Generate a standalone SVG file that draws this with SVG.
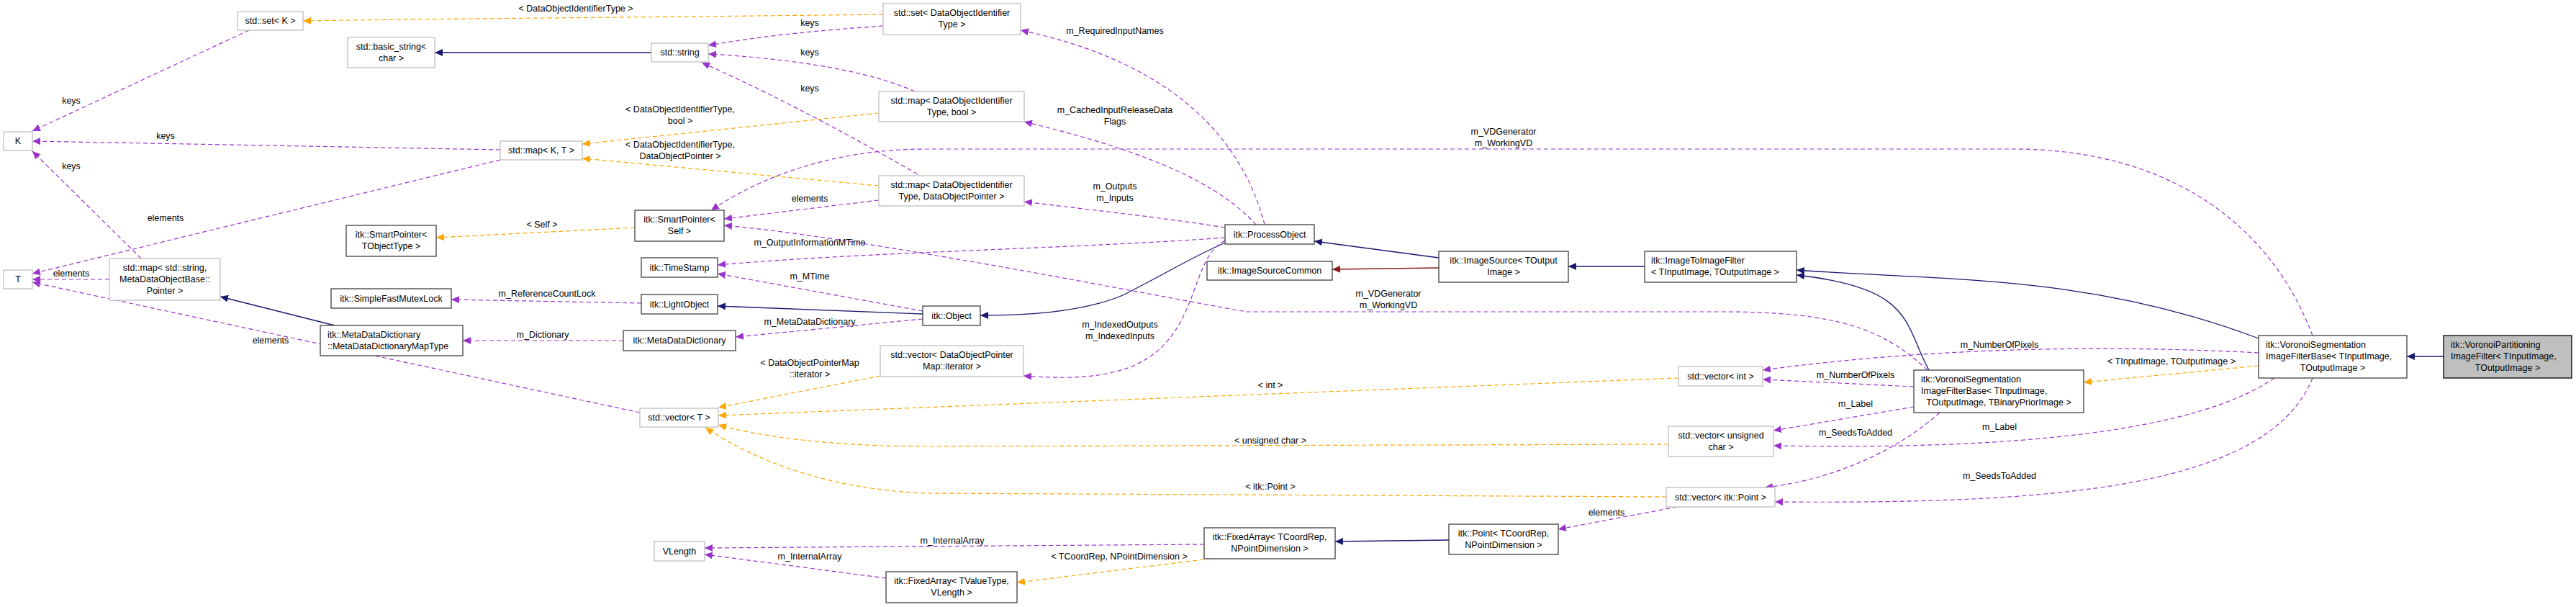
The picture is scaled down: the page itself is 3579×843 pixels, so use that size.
<svg xmlns="http://www.w3.org/2000/svg" width="3579" height="843" viewBox="0 0 3579 843">
<style>
text{font-family:"Liberation Sans",Arial,sans-serif;font-size:12.5px;fill:#000}
.c{text-anchor:middle}
.b{fill:#fff;stroke:#404040;stroke-width:1.3}
.g{fill:#fff;stroke:#bfbfbf;stroke-width:1.3}
.h{fill:#bfbfbf;stroke:#000;stroke-width:1.3}
.p{fill:none;stroke:#9a32cd;stroke-dasharray:6,4;stroke-width:1.2;marker-end:url(#mp)}
.o{fill:none;stroke:#ffa500;stroke-dasharray:6,4;stroke-width:1.2;marker-end:url(#mo)}
.n{fill:none;stroke:#191970;stroke-width:1.3;marker-end:url(#mn)}
.r{fill:none;stroke:#8b1a1a;stroke-width:1.3;marker-end:url(#mr)}
</style>
<defs>
<marker id="mp" markerWidth="12" markerHeight="10" refX="11" refY="5" orient="auto" markerUnits="userSpaceOnUse"><path d="M0,0L11,5L0,10z" fill="#9a32cd"/></marker>
<marker id="mo" markerWidth="12" markerHeight="10" refX="11" refY="5" orient="auto" markerUnits="userSpaceOnUse"><path d="M0,0L11,5L0,10z" fill="#ffa500"/></marker>
<marker id="mn" markerWidth="12" markerHeight="10" refX="11" refY="5" orient="auto" markerUnits="userSpaceOnUse"><path d="M0,0L11,5L0,10z" fill="#191970"/></marker>
<marker id="mr" markerWidth="12" markerHeight="10" refX="11" refY="5" orient="auto" markerUnits="userSpaceOnUse"><path d="M0,0L11,5L0,10z" fill="#8b1a1a"/></marker>
</defs>
<rect width="3579" height="843" fill="#fff"/>
<g id="edges">
<path class="o" d="M1227,20 C900,24 600,26 421,29"/><text class="c" x="800" y="16">&lt; DataObjectIdentifierType &gt;</text>
<path class="p" d="M1227,36 C1100,45 1050,52 984,63"/><text class="c" x="1125" y="36">keys</text>
<path class="p" d="M1271,127 C1200,95 1080,80 984,75"/><text class="c" x="1125" y="77">keys</text>
<path class="p" d="M1275,242 C1150,170 1050,120 975,87"/><text class="c" x="1125" y="127">keys</text>
<path class="n" d="M905,73 L604,73"/>
<path class="p" d="M346,42 L45,182"/><text class="c" x="99" y="144">keys</text>
<path class="p" d="M695,208 L45,196"/><text class="c" x="230" y="193">keys</text>
<path class="p" d="M695,222 L45,380"/><text class="c" x="230" y="307">elements</text>
<path class="p" d="M196,359 L45,210"/><text class="c" x="99" y="235">keys</text>
<path class="p" d="M152,388 L45,388"/><text class="c" x="99" y="384">elements</text>
<path class="n" d="M465,452 L306,412"/>
<path class="p" d="M866,473 L643,473"/><text class="c" x="754" y="469">m_Dictionary</text>
<path class="p" d="M1282,443 L1022,468"/><text class="c" x="1125" y="451">m_MetaDataDictionary</text>
<path class="p" d="M891,421 L627,416"/><text class="c" x="760" y="412">m_ReferenceCountLock</text>
<path class="n" d="M1282,436 L997,425"/>
<path class="p" d="M1282,432 L997,380"/><text class="c" x="1125" y="388">m_MTime</text>
<path class="p" d="M1702,330 C1500,345 1200,350 997,368"/><text class="c" x="1125" y="341">m_OutputInformationMTime</text>
<path class="n" d="M1702,337 C1650,360 1620,380 1560,410 C1500,435 1420,438 1362,438"/>
<path class="p" d="M1757,312 C1720,170 1600,80 1418,42"/><text class="c" x="1549" y="47">m_RequiredInputNames</text>
<path class="p" d="M1745,312 C1680,240 1550,200 1423,169"/><text class="c" x="1549" y="157">m_CachedInputReleaseData</text><text class="c" x="1549" y="173">Flags</text>
<path class="p" d="M1702,316 C1600,300 1500,290 1423,280"/><text class="c" x="1549" y="263">m_Outputs</text><text class="c" x="1549" y="279">m_Inputs</text>
<path class="o" d="M1221,258 L809,220"/><text class="c" x="945" y="205">&lt; DataObjectIdentifierType,</text><text class="c" x="945" y="221">DataObjectPointer &gt;</text>
<path class="o" d="M1221,157 L809,200"/><text class="c" x="945" y="156">&lt; DataObjectIdentifierType,</text><text class="c" x="945" y="172">bool &gt;</text>
<path class="p" d="M1221,278 L1006,304"/><text class="c" x="1125" y="280">elements</text>
<path class="o" d="M882,316 L606,330"/><text class="c" x="753" y="316">&lt; Self &gt;</text>
<path class="p" d="M1702,334 C1650,360 1670,470 1570,510 C1520,528 1470,525 1422,522"/><text class="c" x="1556" y="455">m_IndexedOutputs</text><text class="c" x="1556" y="471">m_IndexedInputs</text>
<path class="p" d="M2678,514 C2620,460 2560,433 2394,433 L1732,433 C1600,410 1200,330 1006,313"/><text class="c" x="1929" y="412">m_VDGenerator</text><text class="c" x="1929" y="428">m_WorkingVD</text>
<path class="p" d="M3213,466 C3150,300 3000,207 2798,207 L1287,207 C1150,207 1050,250 988,292"/><text class="c" x="2089" y="187">m_VDGenerator</text><text class="c" x="2089" y="203">m_WorkingVD</text>
<path class="n" d="M1999,358 L1826,335"/>
<path class="r" d="M1999,372 L1851,374"/>
<path class="n" d="M2285,370 L2179,370"/>
<path class="n" d="M3138,470 C2900,380 2700,390 2496,375"/>
<path class="n" d="M2680,514 C2645,450 2660,400 2496,382"/>
<path class="n" d="M3395,495 L3344,495"/>
<path class="o" d="M3138,508 L2895,531"/><text class="c" x="3017" y="506">&lt; TInputImage, TOutputImage &gt;</text>
<path class="p" d="M3138,490 C2950,480 2700,480 2449,514"/><text class="c" x="2778" y="483">m_NumberOfPixels</text>
<path class="p" d="M2659,537 L2449,527"/><text class="c" x="2578" y="525">m_NumberOfPixels</text>
<path class="p" d="M2659,565 L2464,598"/><text class="c" x="2578" y="565">m_Label</text>
<path class="p" d="M3160,525 C3050,600 2800,625 2464,619"/><text class="c" x="2778" y="597">m_Label</text>
<path class="p" d="M2695,573 C2620,640 2520,670 2452,677"/><text class="c" x="2578" y="605">m_SeedsToAdded</text>
<path class="p" d="M3213,525 C3150,680 2850,700 2466,697"/><text class="c" x="2778" y="665">m_SeedsToAdded</text>
<path class="p" d="M2330,704 L2165,735"/><text class="c" x="2232" y="716">elements</text>
<path class="n" d="M2013,750 L1855,752"/>
<path class="p" d="M1673,756 L979,761"/><text class="c" x="1323" y="755">m_InternalArray</text>
<path class="o" d="M1673,777 L1413,809"/><text class="c" x="1555" y="777">&lt; TCoordRep, NPointDimension &gt;</text>
<path class="p" d="M1231,803 L979,770"/><text class="c" x="1125" y="777">m_InternalArray</text>
<path class="o" d="M1223,522 L998,566"/><text class="c" x="1125" y="508">&lt; DataObjectPointerMap</text><text class="c" x="1125" y="524">::iterator &gt;</text>
<path class="o" d="M2332,525 L998,577"/><text class="c" x="1765" y="539">&lt; int &gt;</text>
<path class="o" d="M2318,617 L1290,620 C1150,620 1050,605 998,590"/><text class="c" x="1765" y="616">&lt; unsigned char &gt;</text>
<path class="o" d="M2315,690 L1290,685 C1150,680 1050,640 980,594"/><text class="c" x="1765" y="680">&lt; itk::Point &gt;</text>
<path class="p" d="M889,573 L45,392"/><text class="c" x="376" y="477">elements</text>
</g>
<g id="n1"><rect class="g" x="330" y="16" width="91" height="26"/><text class="c" x="375.5" y="33">std::set&lt; K &gt;</text></g>
<g id="n2"><rect class="g" x="483" y="52" width="121" height="42"/><text class="c" x="543.5" y="69">std::basic_string&lt;</text><text class="c" x="543.5" y="85">char &gt;</text></g>
<g id="n3"><rect class="g" x="5" y="183" width="40" height="26"/><text class="c" x="25" y="200">K</text></g>
<g id="n4"><rect class="g" x="5" y="375" width="40" height="26"/><text class="c" x="25" y="392">T</text></g>
<g id="n5"><rect class="g" x="152" y="359" width="154" height="58"/><text class="c" x="229" y="376">std::map&lt; std::string,</text><text class="c" x="229" y="392">MetaDataObjectBase::</text><text class="c" x="229" y="408">Pointer &gt;</text></g>
<g id="n6"><rect class="b" x="481" y="313" width="125" height="43"/><text class="c" x="543.5" y="330">itk::SmartPointer&lt;</text><text class="c" x="543.5" y="346">TObjectType &gt;</text></g>
<g id="n7"><rect class="b" x="460" y="401" width="167" height="27"/><text class="c" x="543.5" y="419">itk::SimpleFastMutexLock</text></g>
<g id="n8"><rect class="b" x="445" y="452" width="198" height="42"/><text x="455" y="469">itk::MetaDataDictionary</text><text x="455" y="485">::MetaDataDictionaryMapType</text></g>
<g id="n9"><rect class="g" x="1227" y="5" width="191" height="43"/><text class="c" x="1322.5" y="22">std::set&lt; DataObjectIdentifier</text><text class="c" x="1322.5" y="38">Type &gt;</text></g>
<g id="n10"><rect class="g" x="905" y="60" width="79" height="26"/><text class="c" x="944.5" y="77">std::string</text></g>
<g id="n11"><rect class="g" x="1221" y="127" width="202" height="42"/><text class="c" x="1322" y="144">std::map&lt; DataObjectIdentifier</text><text class="c" x="1322" y="160">Type, bool &gt;</text></g>
<g id="n12"><rect class="g" x="695" y="196" width="114" height="26"/><text class="c" x="752" y="213">std::map&lt; K, T &gt;</text></g>
<g id="n13"><rect class="g" x="1221" y="244" width="202" height="42"/><text class="c" x="1322" y="261">std::map&lt; DataObjectIdentifier</text><text class="c" x="1322" y="277">Type, DataObjectPointer &gt;</text></g>
<g id="n14"><rect class="b" x="882" y="292" width="124" height="43"/><text class="c" x="944" y="309">itk::SmartPointer&lt;</text><text class="c" x="944" y="325">Self &gt;</text></g>
<g id="n15"><rect class="b" x="891" y="358" width="106" height="27"/><text class="c" x="944" y="376">itk::TimeStamp</text></g>
<g id="n16"><rect class="b" x="891" y="409" width="106" height="27"/><text class="c" x="944" y="427">itk::LightObject</text></g>
<g id="n17"><rect class="b" x="866" y="459" width="156" height="28"/><text class="c" x="944" y="477">itk::MetaDataDictionary</text></g>
<g id="n18"><rect class="b" x="1282" y="425" width="80" height="27"/><text class="c" x="1322" y="443">itk::Object</text></g>
<g id="n19"><rect class="g" x="1223" y="480" width="199" height="43"/><text class="c" x="1322.5" y="497">std::vector&lt; DataObjectPointer</text><text class="c" x="1322.5" y="513">Map::iterator &gt;</text></g>
<g id="n20"><rect class="g" x="889" y="567" width="109" height="26"/><text class="c" x="943.5" y="584">std::vector&lt; T &gt;</text></g>
<g id="n21"><rect class="g" x="909" y="752" width="70" height="27"/><text class="c" x="944" y="770">VLength</text></g>
<g id="n22"><rect class="b" x="1231" y="794" width="182" height="43"/><text class="c" x="1322" y="811">itk::FixedArray&lt; TValueType,</text><text class="c" x="1322" y="827">VLength &gt;</text></g>
<g id="n23"><rect class="b" x="1702" y="312" width="124" height="27"/><text class="c" x="1764" y="330">itk::ProcessObject</text></g>
<g id="n24"><rect class="b" x="1677" y="363" width="174" height="26"/><text class="c" x="1764" y="380">itk::ImageSourceCommon</text></g>
<g id="n25"><rect class="b" x="1999" y="349" width="180" height="43"/><text class="c" x="2089" y="366">itk::ImageSource&lt; TOutput</text><text class="c" x="2089" y="382">Image &gt;</text></g>
<g id="n26"><rect class="b" x="1673" y="733" width="182" height="43"/><text class="c" x="1764" y="750">itk::FixedArray&lt; TCoordRep,</text><text class="c" x="1764" y="766">NPointDimension &gt;</text></g>
<g id="n27"><rect class="b" x="2013" y="728" width="152" height="42"/><text class="c" x="2089" y="745">itk::Point&lt; TCoordRep,</text><text class="c" x="2089" y="761">NPointDimension &gt;</text></g>
<g id="n28"><rect class="b" x="2285" y="349" width="211" height="43"/><text x="2294" y="366">itk::ImageToImageFilter</text><text x="2294" y="382">&lt; TInputImage, TOutputImage &gt;</text></g>
<g id="n29"><rect class="g" x="2332" y="509" width="117" height="27"/><text class="c" x="2390.5" y="527">std::vector&lt; int &gt;</text></g>
<g id="n30"><rect class="b" x="2659" y="514" width="236" height="59"/><text x="2669" y="531">itk::VoronoiSegmentation</text><text x="2669" y="547">ImageFilterBase&lt; TInputImage,</text><text class="c" x="2777" y="563">TOutputImage, TBinaryPriorImage &gt;</text></g>
<g id="n31"><rect class="g" x="2318" y="592" width="146" height="42"/><text class="c" x="2391" y="609">std::vector&lt; unsigned</text><text class="c" x="2391" y="625">char &gt;</text></g>
<g id="n32"><rect class="g" x="2315" y="677" width="151" height="27"/><text class="c" x="2390.5" y="695">std::vector&lt; itk::Point &gt;</text></g>
<g id="n33"><rect class="b" x="3138" y="466" width="206" height="59"/><text x="3148" y="483">itk::VoronoiSegmentation</text><text x="3148" y="499">ImageFilterBase&lt; TInputImage,</text><text class="c" x="3241" y="515">TOutputImage &gt;</text></g>
<g id="n34"><rect class="h" x="3395" y="466" width="178" height="59"/><text x="3405" y="483">itk::VoronoiPartitioning</text><text x="3405" y="499">ImageFilter&lt; TInputImage,</text><text class="c" x="3484" y="515">TOutputImage &gt;</text></g>
</svg>
